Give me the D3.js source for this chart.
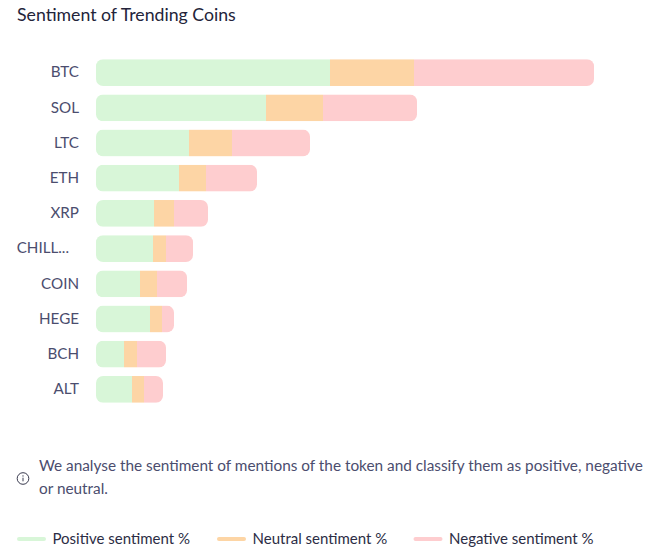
<!DOCTYPE html>
<html>
<head>
<meta charset="utf-8">
<script src="https://cdnjs.cloudflare.com/ajax/libs/d3/7.8.5/d3.min.js"></script>
<style>
  html, body { margin: 0; padding: 0; background: #fff; }
  svg { display: block; font-family: Lato, sans-serif; }
</style>
</head>
<body>
<svg id="chart" width="649" height="553"></svg>
<script>
const coins = ['BTC', 'SOL', 'LTC', 'ETH', 'XRP', 'CHILL...', 'COIN', 'HEGE', 'BCH', 'ALT'];
const positive = [234, 170, 93, 83, 58, 57, 44, 54, 28, 36];
const neutral = [84, 57, 43, 27, 20, 13, 17, 12, 13, 12];
const negative = [180, 94, 78, 51, 34, 27, 30, 12, 29, 19];

const seriesNames = ['Positive sentiment %', 'Neutral sentiment %', 'Negative sentiment %'];
const seriesColors = ['#d8f6d8', '#fdd5a5', '#fecdcf'];
const noteLines = ['We analyse the sentiment of mentions of the token and classify them as positive, negative', 'or neutral.'];

const textColor = '#4b4d6e';
const svg = d3.select('#chart');

svg.append('text')
    .attr('x', 17).attr('y', 21)
    .attr('font-size', 17.7)
    .attr('fill', '#23243a')
    .text('Sentiment of Trending Coins');

const rows = coins.map((c, i) => ({ coin: c, s0: positive[i], s1: neutral[i], s2: negative[i] }));
const stacked = d3.stack().keys(['s0', 's1', 's2'])(rows);

const x = d3.scaleLinear().domain([0, d3.max(rows, d => d.s0 + d.s1 + d.s2)]).range([96, 594]);
const y = d3.scaleBand().domain(coins).range([55, 407]).paddingInner(0.24).paddingOuter(0.12);

// every bar gets rounded ends through a clip, inner segment edges stay square
const defs = svg.append('defs');
rows.forEach((d, i) => {
    defs.append('clipPath').attr('id', 'clip-' + i)
        .append('rect')
        .attr('x', x(0))
        .attr('y', y(d.coin))
        .attr('width', x(d.s0 + d.s1 + d.s2) - x(0))
        .attr('height', y.bandwidth())
        .attr('rx', 7).attr('ry', 7);
});

const barRows = svg.append('g').selectAll('g').data(rows).enter().append('g')
    .attr('clip-path', (d, i) => `url(#clip-${i})`);

barRows.selectAll('rect')
    .data((d, i) => stacked.map((s, k) => ({ coin: d.coin, a: s[i][0], b: s[i][1], k: k })))
    .enter().append('rect')
    .attr('x', d => x(d.a))
    .attr('y', d => y(d.coin))
    .attr('width', d => x(d.b) - x(d.a))
    .attr('height', y.bandwidth())
    .attr('fill', d => seriesColors[d.k]);

const axis = svg.append('g')
    .attr('transform', 'translate(96,0)')
    .call(d3.axisLeft(y).tickSize(0).tickPadding(17));
axis.select('.domain').remove();
axis.selectAll('text')
    .attr('font-family', 'Lato, sans-serif')
    .attr('font-size', 15.2)
    .attr('fill', textColor)
    .attr('dx', d => d === 'CHILL...' ? -10 : 0);

// info icon
const info = svg.append('g').attr('transform', 'translate(23,478.5)');
info.append('circle').attr('r', 5.8).attr('fill', 'none').attr('stroke', '#23243a').attr('stroke-width', 0.9);
info.append('line').attr('y1', -0.8).attr('y2', 2.8).attr('stroke', '#23243a').attr('stroke-width', 0.9);
info.append('circle').attr('cy', -2.6).attr('r', 0.6).attr('fill', '#23243a');

svg.append('g').selectAll('text').data(noteLines).enter().append('text')
    .attr('x', 39)
    .attr('y', (d, i) => 471 + i * 23)
    .attr('font-size', 15.35)
    .attr('fill', textColor)
    .text(d => d);

const legendLine = [17, 217, 413.5];
const legend = svg.append('g').selectAll('g').data(seriesNames).enter().append('g')
    .attr('transform', (d, i) => `translate(${legendLine[i]},539)`);
legend.append('line')
    .attr('x1', 2).attr('x2', 27)
    .attr('stroke', (d, i) => seriesColors[i])
    .attr('stroke-width', 4)
    .attr('stroke-linecap', 'round');
legend.append('text')
    .attr('x', 35.5).attr('y', 5)
    .attr('font-size', 15)
    .attr('fill', '#2c2d45')
    .text(d => d);
</script>
</body>
</html>
